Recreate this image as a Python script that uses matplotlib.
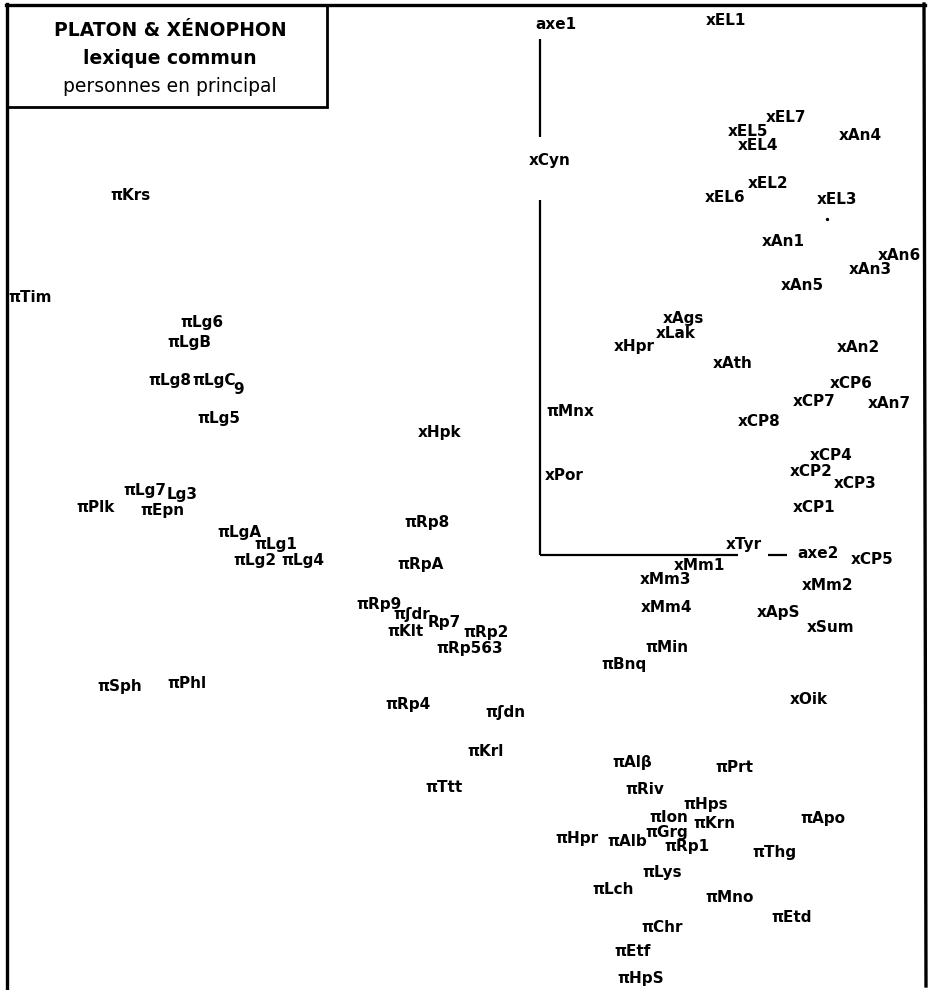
import matplotlib
matplotlib.use("Agg")
import matplotlib.pyplot as plt
from matplotlib.lines import Line2D
from matplotlib.patches import Rectangle

# Correspondence-analysis factor coordinates (axe2 horizontal, axe1 vertical)
labels = [
    "xEL1", "xEL7", "xEL5", "xAn4", "xEL4", "xCyn", "xEL2", "xEL6", "xEL3",
    "xAn1", "xAn6", "xAn3", "xAn5", "xAgs", "xLak", "xHpr", "xAn2", "xAth",
    "xCP6", "xCP7", "xAn7", "πMnx", "xCP8", "xHpk", "xCP4", "xPor", "xCP2",
    "xCP3", "xCP1", "xTyr", "xCP5", "xMm1", "xMm3", "xMm2", "xMm4", "xApS",
    "xSum", "πMin", "πBnq", "xOik", "πAlβ", "πPrt", "πRiv", "πHps", "πIon",
    "πKrn", "πApo", "πGrg", "πHpr", "πAlb", "πRp1", "πThg", "πLys", "πLch",
    "πMno", "πEtd", "πChr", "πEtf", "πHpS", "πRp8", "πRpA", "πRp9", "πʃdr",
    "Rp7", "πKlt", "πRp2", "πRp563", "πRp4", "πʃdn", "πKrl", "πTtt", "πKrs",
    "πTim", "πLg6", "πLgB", "πLg8", "πLgC", "9", "πLg5", "πLg7", "Lg3",
    "πPlk", "πEpn", "πLgA", "πLg1", "πLg2", "πLg4", "πSph", "πPhl",
]
axe2 = [
    1.66, 2.26, 1.88, 2.99, 1.98, -0.11, 2.08, 1.65, 2.77,
    2.22, 3.38, 3.09, 2.41, 1.23, 1.16, 0.74, 2.97, 1.73,
    2.90, 2.53, 3.28, 0.06, 1.98, -1.22, 2.70, 0.05, 2.50,
    2.94, 2.53, 1.86, 3.11, 1.34, 1.00, 2.62, 1.01, 2.17,
    2.67, 1.05, 0.61, 2.50, 0.72, 1.75, 0.85, 1.43, 1.09,
    1.53, 2.60, 1.05, 0.15, 0.67, 1.24, 2.12, 1.02, 0.52,
    1.65, 2.31, 1.01, 0.74, 0.77, -1.36, -1.43, -1.84, -1.47,
    -1.12, -1.53, -0.77, -1.04, -1.55, -0.55, -0.73, -1.15, -4.30,
    -5.32, -3.60, -3.73, -3.92, -3.48, -3.07, -3.43, -4.17, -3.73,
    -4.64, -4.00, -3.23, -2.86, -3.07, -2.59, -4.43, -3.73,
]
axe1 = [
    5.34, 4.38, 4.24, 4.20, 4.10, 3.94, 3.72, 3.58, 3.56,
    3.13, 3.00, 2.86, 2.69, 2.37, 2.21, 2.08, 2.08, 1.92,
    1.72, 1.54, 1.52, 1.43, 1.33, 1.22, 1.00, 0.79, 0.83,
    0.72, 0.47, 0.10, -0.05, -0.10, -0.24, -0.30, -0.53, -0.58,
    -0.72, -0.93, -1.09, -1.45, -2.07, -2.12, -2.35, -2.50, -2.63,
    -2.68, -2.64, -2.78, -2.83, -2.87, -2.92, -2.97, -3.18, -3.34,
    -3.42, -3.62, -3.72, -3.97, -4.24, 0.33, -0.10, -0.49, -0.60,
    -0.67, -0.77, -0.77, -0.94, -1.50, -1.58, -1.97, -2.33, 3.60,
    2.58, 2.32, 2.13, 1.75, 1.75, 1.66, 1.36, 0.65, 0.60,
    0.48, 0.45, 0.22, 0.10, -0.05, -0.05, -1.32, -1.28,
]
dots_x = [2.87]
dots_y = [3.36]

title_lines = ["PLATON & XÉNOPHON", "lexique commun", "personnes en principal"]

W, H = 929, 990
fig = plt.figure(figsize=(W / 100, H / 100), dpi=100)
fig.patch.set_facecolor("white")
ax = fig.add_axes([0, 0, 1, 1])
ax.set_xlim(-5.40, 3.89)
ax.set_ylim(-4.35, 5.55)
ax.axis("off")

font = dict(family="DejaVu Sans", fontweight="bold", fontsize=11, color="black")
for lab, xv, yv in zip(labels, axe2, axe1):
    ax.text(xv, yv, lab, ha="left", va="center", **font)

ax.scatter(dots_x, dots_y, s=2, color="black")

# axes of the analysis
ax.plot([0, 0], [0, 3.55], color="black", lw=1.6, solid_capstyle="butt")
ax.plot([0, 0], [4.18, 5.16], color="black", lw=1.6, solid_capstyle="butt")
ax.plot([0, 1.98], [0, 0], color="black", lw=1.6, solid_capstyle="butt")
ax.plot([2.28, 2.47], [0, 0], color="black", lw=1.6, solid_capstyle="butt")
ax.text(-0.05, 5.30, "axe1", ha="left", va="center", **font)
ax.text(2.57, 0.02, "axe2", ha="left", va="center", **font)


def fx(px):
    return px / W


def fy(py):
    return 1 - py / H


# page frame
lw_frame = 2.4
fig.add_artist(Line2D([fx(7), fx(7)], [fy(4), fy(990)], color="black", lw=lw_frame))
fig.add_artist(Line2D([fx(6), fx(925)], [fy(5), fy(5)], color="black", lw=lw_frame))
fig.add_artist(Line2D([fx(924), fx(926)], [fy(4), fy(986)], color="black", lw=lw_frame))

# title box
fig.add_artist(Rectangle((fx(7), fy(107)), fx(327) - fx(7), fy(5) - fy(107),
                         transform=fig.transFigure, fill=False, ec="black", lw=2.0))
fig.text(fx(170), fy(30), title_lines[0], ha="center", va="center",
         family="DejaVu Sans", fontweight="bold", fontsize=13.5)
fig.text(fx(170), fy(58), title_lines[1], ha="center", va="center",
         family="DejaVu Sans", fontweight="bold", fontsize=13.5)
fig.text(fx(170), fy(86), title_lines[2], ha="center", va="center",
         family="DejaVu Sans", fontsize=13.5)

fig.savefig("out.png", dpi=100, facecolor="white")
